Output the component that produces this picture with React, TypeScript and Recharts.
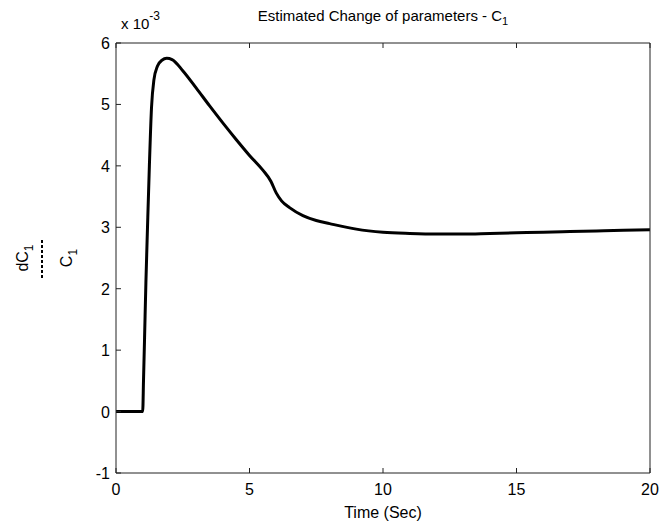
import React from "react";
import { LineChart, Line, XAxis, YAxis } from "recharts";

const timeValues = [0, 0.5, 1.0, 1.03, 1.07, 1.12, 1.18, 1.25, 1.33, 1.42, 1.55, 1.72, 1.9, 2.1, 2.5, 3.0, 3.5, 4.0, 4.5, 5.0, 5.5, 5.8, 6.0, 6.2, 6.5, 7.0, 7.5, 8.0, 9.0, 10, 11, 12, 13, 14, 15, 16, 17, 18, 19, 20];
const changeValues = [0, 0, 0, 0.5, 1.2, 2.1, 3.0, 4.0, 4.95, 5.4, 5.62, 5.72, 5.75, 5.73, 5.55, 5.27, 4.98, 4.7, 4.43, 4.17, 3.93, 3.75, 3.56, 3.43, 3.32, 3.19, 3.11, 3.06, 2.97, 2.92, 2.9, 2.89, 2.89, 2.9, 2.91, 2.92, 2.93, 2.94, 2.95, 2.96];
const xTicks = [0, 5, 10, 15, 20];
const yTicks = [-1, 0, 1, 2, 3, 4, 5, 6];

const data = timeValues.map((t, i) => ({ t, v: changeValues[i] }));

const FONT = "'Liberation Sans', Arial, Helvetica, sans-serif";
const TICK_LEN = 5;
const AXIS_COLOR = "#222";

const BottomTick = (props: any) => {
  const { x, y, payload } = props;
  return (
    <g>
      <line x1={x} y1={y} x2={x} y2={y - TICK_LEN} stroke={AXIS_COLOR} strokeWidth={1} />
      <text x={x} y={y + 22} textAnchor="middle" fontFamily={FONT} fontSize={16} fill="#000">
        {payload.value}
      </text>
    </g>
  );
};

const TopTick = (props: any) => {
  const { x, y } = props;
  return <line x1={x} y1={y} x2={x} y2={y + TICK_LEN} stroke={AXIS_COLOR} strokeWidth={1} />;
};

const LeftTick = (props: any) => {
  const { x, y, payload } = props;
  return (
    <g>
      <line x1={x} y1={y} x2={x + TICK_LEN} y2={y} stroke={AXIS_COLOR} strokeWidth={1} />
      <text x={x - 6} y={y + 6} textAnchor="end" fontFamily={FONT} fontSize={16} fill="#000">
        {payload.value}
      </text>
    </g>
  );
};

const RightTick = (props: any) => {
  const { x, y } = props;
  return <line x1={x} y1={y} x2={x - TICK_LEN} y2={y} stroke={AXIS_COLOR} strokeWidth={1} />;
};

const TitleLabel = (props: any) => {
  const vb = props.viewBox || {};
  const cx = vb.x + vb.width / 2;
  const top = vb.y + (vb.height || 0);
  return (
    <g fontFamily={FONT} fill="#000">
      <text x={cx} y={top - 22} textAnchor="middle" fontSize={15}>
        Estimated Change of parameters - C
        <tspan fontSize={11} dy={4}>1</tspan>
      </text>
      <text x={vb.x + 5} y={top - 14} fontSize={15}>
        x 10
        <tspan fontSize={12} dy={-9}>-3</tspan>
      </text>
    </g>
  );
};

const YFractionLabel = (props: any) => {
  const vb = props.viewBox || {};
  const cx = vb.x + 42;
  const cy = vb.y + vb.height / 2;
  return (
    <g transform={`translate(${cx},${cy}) rotate(-90)`} fontFamily={FONT} fill="#000">
      <text x={0} y={-14} textAnchor="middle" fontSize={16}>
        dC<tspan fontSize={12} dy={5}>1</tspan>
      </text>
      <line x1={-20} y1={0} x2={20} y2={0} stroke="#000" strokeWidth={2} strokeDasharray="3 2" />
      <text x={0} y={30} textAnchor="middle" fontSize={16}>
        C<tspan fontSize={12} dy={5}>1</tspan>
      </text>
    </g>
  );
};

const XLabel = (props: any) => {
  const vb = props.viewBox || {};
  const cx = vb.x + vb.width / 2;
  return (
    <text x={cx} y={vb.y + 45} textAnchor="middle" fontFamily={FONT} fontSize={16} fill="#000">
      Time (Sec)
    </text>
  );
};

export default function App() {
  return (
    <div style={{ position: "absolute", left: 0, top: 0, width: 660, height: 527, background: "#fff" }}>
      <LineChart width={660} height={527} data={data} margin={{ top: 42, right: 9, bottom: 0, left: 0 }}>
        <XAxis
          xAxisId="bottom"
          dataKey="t"
          type="number"
          domain={[0, 20]}
          ticks={xTicks}
          height={54}
          tickSize={0}
          tickMargin={0}
          tick={<BottomTick />}
          axisLine={{ stroke: AXIS_COLOR }}
          label={<XLabel />}
        />
        <XAxis
          xAxisId="top"
          orientation="top"
          dataKey="t"
          type="number"
          domain={[0, 20]}
          ticks={xTicks}
          height={1}
          tickSize={0}
          tickMargin={0}
          tick={<TopTick />}
          axisLine={{ stroke: AXIS_COLOR }}
          label={<TitleLabel />}
        />
        <YAxis
          yAxisId="left"
          type="number"
          domain={[-1, 6]}
          ticks={yTicks}
          width={116}
          tickSize={0}
          tickMargin={0}
          tick={<LeftTick />}
          axisLine={{ stroke: AXIS_COLOR }}
          label={<YFractionLabel />}
        />
        <YAxis
          yAxisId="right"
          orientation="right"
          type="number"
          domain={[-1, 6]}
          ticks={yTicks}
          width={1}
          tickSize={0}
          tickMargin={0}
          tick={<RightTick />}
          axisLine={{ stroke: AXIS_COLOR }}
        />
        <Line
          xAxisId="bottom"
          yAxisId="left"
          dataKey="v"
          type="monotone"
          stroke="#000"
          strokeWidth={3}
          dot={false}
          isAnimationActive={false}
        />
      </LineChart>
    </div>
  );
}
